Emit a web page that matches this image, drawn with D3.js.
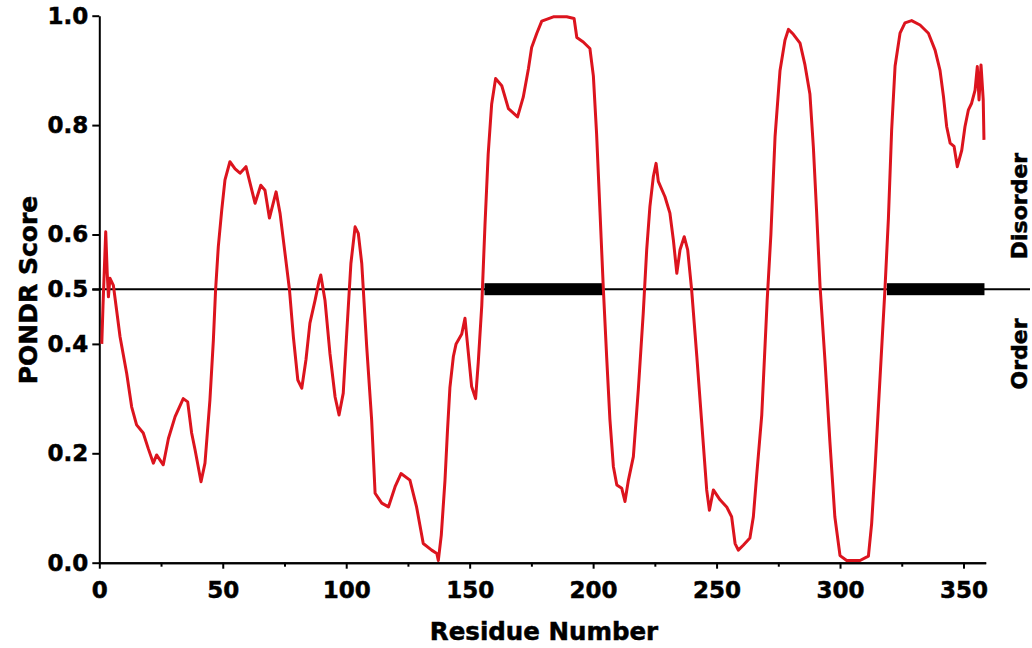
<!DOCTYPE html>
<html>
<head>
<meta charset="utf-8">
<script src="https://cdn.jsdelivr.net/npm/d3@7"></script>
<style>
  html, body { margin: 0; padding: 0; background: #fff; }
  svg { display: block; }
  text { font-family: "DejaVu Sans", sans-serif; font-weight: bold; fill: #000; stroke: #000; stroke-width: 0.5px; }
</style>
</head>
<body>
<svg id="chart" width="1032" height="648"></svg>
<script>
// ---- data ----
const residues = [1, 1.5, 2.6, 3.2, 3.7, 4.3, 5.7, 7, 8.4, 11.1, 13.1, 15.1, 17.8, 19.8, 21.9, 23.2, 25.9, 28, 30.7, 34,
  35.8, 37.4, 38.8, 41.2, 42.8, 44.8, 46.2, 47.1, 48.2, 49.6, 50.9, 52.9, 55, 57, 59.4, 63.1, 65.4, 67.1, 68.9, 71.6,
  73.2, 75.2, 77, 78.6, 80.4, 82, 83.7, 85.3, 87.4, 89.1, 89.7, 91.4, 93.4, 95.5, 97.1, 98.8, 100.2, 101.9, 103.6, 104.9,
  106.3, 108.3, 110.3, 111.7, 114.4, 117.1, 119.8, 122.2, 125.8, 128.5, 131.2, 134.6, 136.7, 137.3, 138.5, 140, 141, 142, 143.4, 144.5,
  146.8, 148.1, 149, 150.8, 152.4, 153.5, 154.9, 156.2, 157.5, 158.9, 160.5, 163, 165.7, 169.4, 171.7, 173.8, 175.1, 177.2, 179.2, 183.9,
  189.3, 192.3, 193.4, 196, 198.7, 200.1, 201.4, 202.8, 204.1, 205.5, 206.8, 208.2, 209.6, 211.6, 212.9, 214.3, 216.3, 218.3, 220.3, 221.7,
  223, 224.4, 225.5, 226.4, 229.1, 231.1, 232.5, 233.9, 235.2, 236.9, 238.3, 239.9, 242, 244, 246, 247.1, 248.7, 251.4, 254.1, 256.1,
  257.5, 258.8, 260.8, 263.5, 264.9, 266.3, 268.3, 270.5, 272, 273.7, 275.7, 277.7, 279.1, 281.1, 283.8, 285.8, 287.8, 289.2, 290.5, 291.9,
  293.9, 295.9, 297.9, 300, 302.7, 308.1, 311.5, 312.8, 314.2, 316.2, 318.2, 319.6, 320.9, 322.3, 324.3, 326.3, 329, 332.4, 335.8, 338.5,
  340.5, 341.9, 343.2, 344.6, 346.2, 347.5, 349.3, 350.6, 352, 353.3, 354.7, 355.6, 356.3, 357.1, 358, 358.3];
const scores = [0.40, 0.47, 0.605, 0.53, 0.486, 0.52, 0.507, 0.462, 0.413, 0.346, 0.285, 0.252, 0.237, 0.209, 0.182, 0.197, 0.179, 0.227, 0.267, 0.30,
  0.294, 0.237, 0.206, 0.148, 0.182, 0.297, 0.407, 0.499, 0.578, 0.645, 0.70, 0.733, 0.72, 0.712, 0.724, 0.657, 0.69, 0.681, 0.63, 0.678,
  0.639, 0.566, 0.50, 0.413, 0.334, 0.319, 0.371, 0.438, 0.48, 0.517, 0.526, 0.48, 0.383, 0.303, 0.27, 0.31, 0.419, 0.547, 0.614, 0.602,
  0.547, 0.395, 0.261, 0.127, 0.109, 0.102, 0.139, 0.163, 0.151, 0.102, 0.035, 0.023, 0.017, 0.004, 0.05, 0.15, 0.24, 0.32, 0.377, 0.40,
  0.418, 0.447, 0.405, 0.322, 0.30, 0.367, 0.47, 0.617, 0.747, 0.838, 0.885, 0.872, 0.83, 0.815, 0.851, 0.903, 0.942, 0.968, 0.99, 0.998,
  0.998, 0.995, 0.96, 0.952, 0.94, 0.89, 0.785, 0.64, 0.505, 0.375, 0.262, 0.176, 0.142, 0.136, 0.112, 0.151, 0.194, 0.316, 0.456, 0.572,
  0.651, 0.706, 0.73, 0.697, 0.669, 0.639, 0.59, 0.529, 0.572, 0.596, 0.572, 0.499, 0.377, 0.255, 0.133, 0.096, 0.133, 0.115, 0.102, 0.084,
  0.035, 0.023, 0.032, 0.045, 0.084, 0.163, 0.27, 0.48, 0.60, 0.78, 0.90, 0.955, 0.975, 0.966, 0.95, 0.91, 0.857, 0.76, 0.643, 0.506,
  0.37, 0.221, 0.084, 0.013, 0.004, 0.004, 0.012, 0.071, 0.175, 0.338, 0.50, 0.63, 0.79, 0.908, 0.968, 0.987, 0.991, 0.983, 0.968, 0.937,
  0.90, 0.852, 0.797, 0.767, 0.761, 0.724, 0.754, 0.797, 0.828, 0.84, 0.864, 0.907, 0.846, 0.91, 0.846, 0.773];
const xTicks = [0, 50, 100, 150, 200, 250, 300, 350];
const xMinorTicks = [25, 75, 125, 175, 225, 275, 325];
const yTicks = [0.0, 0.2, 0.4, 0.5, 0.6, 0.8, 1.0];
const threshold = 0.5;
const disorderStart = [156, 319];
const disorderEnd = [204, 358.5];
const xLabel = "Residue Number";
const yLabel = "PONDR Score";
const upperLabel = "Disorder";
const lowerLabel = "Order";

// ---- drawing ----
const svg = d3.select("#chart");
svg.append("rect").attr("width", 1032).attr("height", 648).attr("fill", "#fff");

const x = d3.scaleLinear().domain([0, 359]).range([99.3, 985.7]);
const y = d3.scaleLinear().domain([0, 1]).range([562.7, 15.7]);

// threshold line
svg.append("line")
  .attr("x1", x(0) - 7).attr("x2", 1030)
  .attr("y1", y(threshold)).attr("y2", y(threshold))
  .attr("stroke", "#000").attr("stroke-width", 2);

// disorder bars
const regions = disorderStart.map((s, i) => ({ s, e: disorderEnd[i] }));
svg.selectAll("rect.dis").data(regions).enter().append("rect")
  .attr("class", "dis")
  .attr("x", d => x(d.s)).attr("width", d => x(d.e) - x(d.s))
  .attr("y", y(threshold) - 6).attr("height", 12)
  .attr("fill", "#000");

// axes
const yAxis = d3.axisLeft(y).tickValues(yTicks).tickFormat(d3.format(".1f"))
  .tickSize(7).tickSizeOuter(0).tickPadding(4);
const gy = svg.append("g").attr("transform", `translate(${x(0)},0)`).call(yAxis);
gy.selectAll("text").style("font-size", "23px");

const xAxisMinor = d3.axisBottom(x).tickValues(xMinorTicks).tickFormat("").tickSize(4).tickSizeOuter(0);
svg.append("g").attr("transform", `translate(0,${y(0)})`).call(xAxisMinor);
const xAxis = d3.axisBottom(x).tickValues(xTicks).tickFormat(d3.format("d"))
  .tickSize(6).tickSizeOuter(0).tickPadding(13);
const gx = svg.append("g").attr("transform", `translate(0,${y(0)})`).call(xAxis);
gx.selectAll("text").style("font-size", "23px");

svg.selectAll(".domain").attr("stroke", "#000").attr("stroke-width", 2);
svg.selectAll(".tick line").attr("stroke", "#000").attr("stroke-width", 2);
svg.selectAll(".tick text").attr("fill", "#000").style("font-family", "'DejaVu Sans', sans-serif").style("font-weight", "bold");

// curve
const pts = residues.map((r, i) => [r, scores[i]]);
svg.append("path").datum(pts)
  .attr("fill", "none")
  .attr("stroke", "#dc141e")
  .attr("stroke-width", 3)
  .attr("stroke-linejoin", "round")
  .attr("d", d3.line().x(d => x(d[0])).y(d => y(d[1])));

// labels
svg.append("text").attr("transform", "translate(37,290) rotate(-90)")
  .attr("text-anchor", "middle").style("font-size", "25px").text(yLabel);
svg.append("text").attr("x", 544).attr("y", 640)
  .attr("text-anchor", "middle").style("font-size", "24.5px").text(xLabel);
svg.append("text").attr("transform", "translate(1027,206) rotate(-90)")
  .attr("text-anchor", "middle").style("font-size", "22px").text(upperLabel);
svg.append("text").attr("transform", "translate(1027,354) rotate(-90)")
  .attr("text-anchor", "middle").style("font-size", "22px").text(lowerLabel);
</script>
</body>
</html>
